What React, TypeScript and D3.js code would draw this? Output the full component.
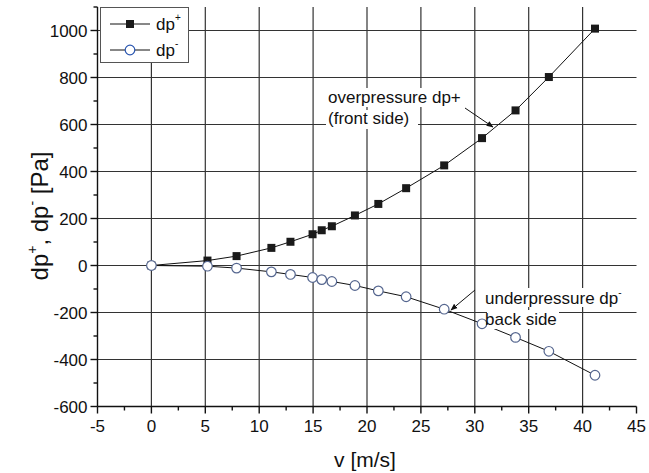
import React from "react";
import * as d3 from "d3";

const velocity = [0, 5.2, 7.9, 11.13, 12.9, 14.95, 15.8, 16.74, 18.88, 21.05, 23.63, 27.16, 30.67, 33.78, 36.87, 41.15];
const dpPlus = [0, 21, 40, 75, 101, 133, 150, 167, 213, 262, 329, 426, 542, 660, 802, 1008];
const dpMinus = [0, -3, -11, -27, -38, -51, -60, -68, -85, -108, -133, -186, -248, -306, -365, -467];
const xTicks = [-5, 0, 5, 10, 15, 20, 25, 30, 35, 40, 45];
const yTicks = [-600, -400, -200, 0, 200, 400, 600, 800, 1000];

const W = 649, H = 473;
const FONT = "Liberation Sans, Arial, sans-serif";

export default function App() {
  const x = d3.scaleLinear().domain([-5, 45]).range([97.5, 636.5]);
  const y = d3.scaleLinear().domain([-600, 1100]).range([406.5, 7]);
  const xMinor = d3.range(-2.5, 45, 5);
  const yMinor = d3.range(-500, 1101, 200);
  const plus = velocity.map((v, i) => [v, dpPlus[i]] as [number, number]);
  const minus = velocity.map((v, i) => [v, dpMinus[i]] as [number, number]);
  const line = d3.line<[number, number]>().x(d => x(d[0])).y(d => y(d[1]));
  const grid = "#333";
  const circ = "#55668f";
  return (
    <svg width={W} height={H} style={{ position: "absolute", left: 0, top: 0 }} fontFamily={FONT}>
      <defs>
        <marker id="ah" viewBox="0 0 10 10" refX="9" refY="5" markerWidth="7" markerHeight="7" orient="auto-start-reverse" markerUnits="userSpaceOnUse">
          <path d="M0,1 L10,5 L0,9 z" fill="#111" />
        </marker>
      </defs>
      <rect width={W} height={H} fill="#fff" />
      {/* grid */}
      {xTicks.filter(t => t > -5 && t < 45).map(t => (
        <line key={"gx" + t} x1={x(t)} x2={x(t)} y1={y(1100)} y2={y(-600)} stroke={grid} strokeWidth={1.2} />
      ))}
      {yTicks.filter(t => t > -600).map(t => (
        <line key={"gy" + t} x1={x(-5)} x2={x(45)} y1={y(t)} y2={y(t)} stroke={grid} strokeWidth={1.2} />
      ))}
      {/* axes */}
      <line x1={x(-5)} x2={x(-5)} y1={y(1100)} y2={y(-600)} stroke="#111" strokeWidth={1.4} />
      <line x1={x(-5)} x2={x(45)} y1={y(-600)} y2={y(-600)} stroke="#111" strokeWidth={1.4} />
      {yTicks.map(t => (
        <g key={"yt" + t}>
          <line x1={x(-5) - 7} x2={x(-5)} y1={y(t)} y2={y(t)} stroke="#111" strokeWidth={1.4} />
          <text x={x(-5) - 10} y={y(t)} dy="0.36em" textAnchor="end" fontSize={17} fill="#111">{t}</text>
        </g>
      ))}
      {yMinor.map(t => (
        <line key={"ym" + t} x1={x(-5) - 4} x2={x(-5)} y1={y(t)} y2={y(t)} stroke="#111" strokeWidth={1.4} />
      ))}
      {xTicks.map(t => (
        <g key={"xt" + t}>
          <line x1={x(t)} x2={x(t)} y1={y(-600)} y2={y(-600) + 7} stroke="#111" strokeWidth={1.4} />
          <text x={x(t)} y={y(-600) + 25} textAnchor="middle" fontSize={17} fill="#111">{t}</text>
        </g>
      ))}
      {xMinor.map(t => (
        <line key={"xm" + t} x1={x(t)} x2={x(t)} y1={y(-600)} y2={y(-600) + 4} stroke="#111" strokeWidth={1.4} />
      ))}
      {/* axis titles */}
      <text x={365} y={467} textAnchor="middle" fontSize={21} fill="#111">v [m/s]</text>
      <text transform="translate(48,216) rotate(-90)" textAnchor="middle" fontSize={24} fill="#111">
        dp<tspan fontSize={14} dy={-11}>+</tspan><tspan dy={11}>, dp</tspan><tspan fontSize={14} dy={-11}>-</tspan><tspan dy={11}> [Pa]</tspan>
      </text>
      {/* series */}
      <path d={line(plus) || ""} fill="none" stroke="#111" strokeWidth={1} />
      <path d={line(minus) || ""} fill="none" stroke="#111" strokeWidth={1} />
      {plus.map((d, i) => (
        <rect key={"p" + i} x={x(d[0]) - 4} y={y(d[1]) - 4} width={8} height={8} fill="#1a1a1a" />
      ))}
      {/* annotations */}
      <rect x={326} y={88} width={140} height={19} fill="#fff" />
      <rect x={326} y={110} width={92} height={19} fill="#fff" />
      <text x={328} y={103} fontSize={17} fill="#111">overpressure dp+</text>
      <text x={328} y={124} fontSize={17} fill="#111">(front side)</text>
      <line x1={465} y1={108} x2={493} y2={127} stroke="#111" strokeWidth={1} markerEnd="url(#ah)" />
      <rect x={483} y={288} width={142} height={19} fill="#fff" />
      {minus.map((d, i) => (
        <circle key={"m" + i} cx={x(d[0])} cy={y(d[1])} r={4.8} fill="#fff" stroke={circ} strokeWidth={1.2} />
      ))}
      <rect x={487} y={310} width={72} height={19} fill="#fff" />
      <text x={485} y={304} fontSize={17} fill="#111">underpressure dp<tspan fontSize={10} dy={-8}>-</tspan></text>
      <text x={485} y={325} fontSize={17} fill="#111">back side</text>
      <line x1={475} y1={290} x2={451} y2={310} stroke="#111" strokeWidth={1} markerEnd="url(#ah)" />
      {/* legend */}
      <rect x={100.5} y={7.5} width={88} height={55} fill="#fff" stroke="#555" strokeWidth={1} />
      <line x1={110} x2={150} y1={24} y2={24} stroke="#111" strokeWidth={1} />
      <rect x={126} y={20} width={8} height={8} fill="#1a1a1a" />
      <text x={156} y={30} fontSize={17} fill="#111">dp<tspan fontSize={10} dy={-9}>+</tspan></text>
      <line x1={110} x2={150} y1={50} y2={50} stroke="#111" strokeWidth={1} />
      <circle cx={130} cy={50} r={4.8} fill="#fff" stroke="#2a56b0" strokeWidth={1.2} />
      <text x={156} y={56} fontSize={17} fill="#111">dp<tspan fontSize={10} dy={-9}>-</tspan></text>
    </svg>
  );
}
